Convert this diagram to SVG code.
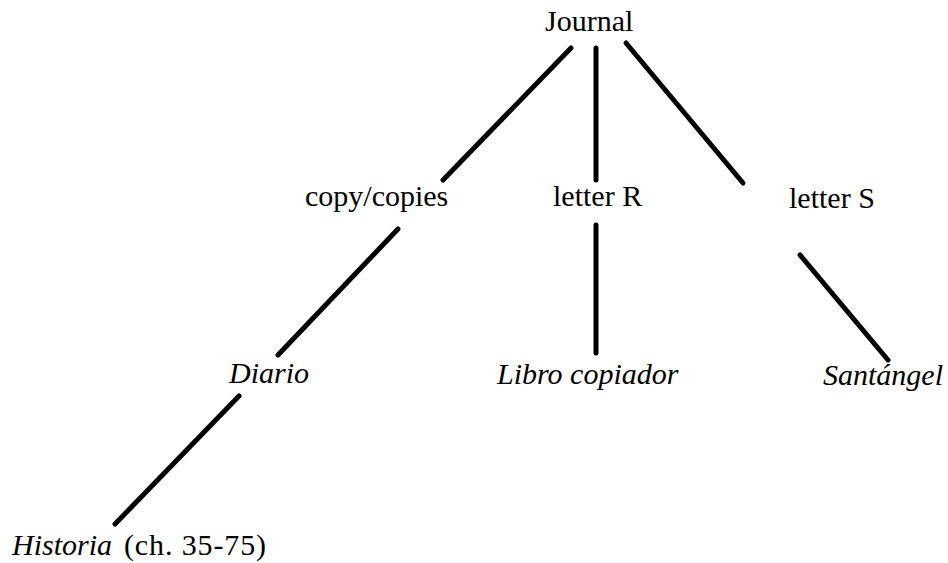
<svg xmlns="http://www.w3.org/2000/svg" width="948" height="563" viewBox="0 0 948 563">
<style>
text{font-family:"Liberation Serif","Times New Roman",serif;font-size:30px;fill:#000}
.it{font-style:italic}
#edges line{stroke:#000;stroke-width:5;stroke-linecap:round}
</style>
<rect width="948" height="563" fill="#fff"/>
<g id="edges">
<line x1="571" y1="48" x2="443" y2="180"/>
<line x1="596" y1="48" x2="596" y2="180"/>
<line x1="626" y1="43" x2="743" y2="183"/>
<line x1="398" y1="229" x2="278" y2="355"/>
<line x1="596" y1="225" x2="596" y2="353"/>
<line x1="800" y1="255" x2="888" y2="360"/>
<line x1="239" y1="396" x2="115" y2="524"/>
</g>
<g id="journal"><text x="545" y="31">Journal</text></g>
<g id="copies"><text x="305" y="206">copy/copies</text></g>
<g id="letterR"><text x="553" y="206">letter R</text></g>
<g id="letterS"><text x="789" y="208">letter S</text></g>
<g id="diario"><text x="229" y="383" class="it">Diario</text></g>
<g id="libro"><text x="497" y="384" class="it">Libro copiador</text></g>
<g id="santangel"><text x="823" y="385" class="it">Santángel</text></g>
<g id="historia"><text x="12" y="555"><tspan class="it">Historia</tspan><tspan x="124" textLength="142" lengthAdjust="spacing">(ch. 35-75)</tspan></text></g>
</svg>
